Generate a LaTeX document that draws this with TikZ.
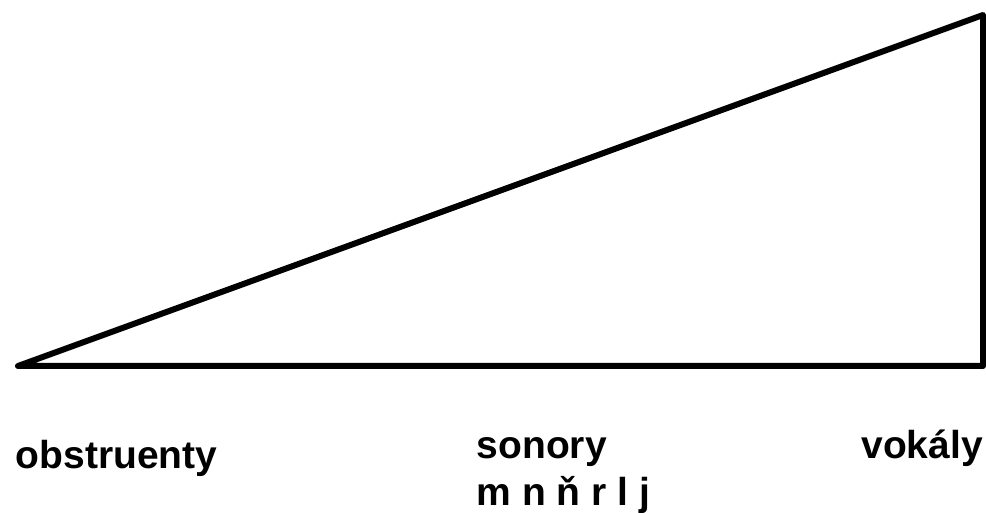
\documentclass[tikz,border=0pt]{standalone}
\usepackage{fontspec}
\setmainfont{Liberation Sans}
\begin{document}
\begin{tikzpicture}[x=0.75pt,y=-0.75pt,
  edge/.style={line width=4.5pt,line join=round,line cap=round},
  lbl/.style={inner sep=0pt,font=\fontsize{29.25}{35}\selectfont\bfseries}]
\useasboundingbox (0,0) rectangle (986,513);
\coordinate (L) at (18,366);
\coordinate (R) at (983,366);
\coordinate (T) at (983,15);
\draw[edge] (L) -- (R) -- (T) -- cycle;
\node[lbl,anchor=base west] (obs) at (15.5,468) {obstruenty};
\node[lbl,anchor=base west] (son) at (476.5,459) {sonory};
\node[lbl,anchor=base west] (sonl) at (476.5,505) {m n ň r l j};
\node[lbl,anchor=base east] (vok) at (983,459) {vokály};
\end{tikzpicture}
\end{document}
